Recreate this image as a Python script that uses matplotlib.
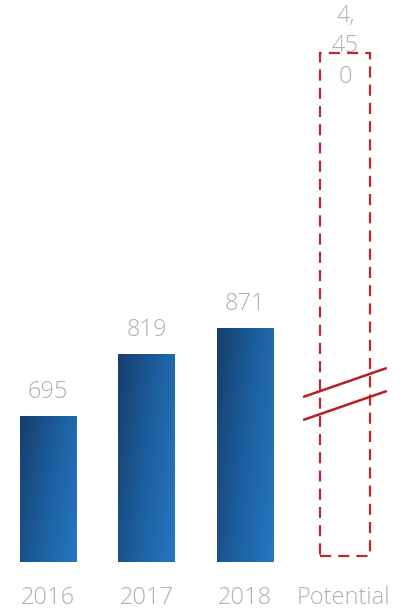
import numpy as np
import matplotlib.pyplot as plt
from matplotlib.colors import LinearSegmentedColormap

categories = ['2016', '2017', '2018', 'Potential']
values = [695, 819, 871]
potential_label = '4,\n45\n0'
potential_value = 4450

plt.rcParams['font.family'] = ['Open Sans', 'DejaVu Sans']

fig = plt.figure(figsize=(4.01, 6.09), dpi=100)
ax = fig.add_axes([0, 47 / 609, 1, 562 / 609])
ymin, ymax = 403, 1527
ax.set_xlim(-0.487, 3.584)
ax.set_ylim(ymin, ymax)
ax.axis('off')

grad = LinearSegmentedColormap.from_list('g', ['#153f6c', '#1d5f9e', '#2677c4'])
gx, gy = np.meshgrid(np.linspace(0, 1, 100), np.linspace(0, 1, 100))
gimg = 0.7 * gx + 0.3 * (1 - gy)

w = 0.569
txt = '#b0b0b0'
fs = 17
bars = ax.bar(range(len(values)), [v - ymin for v in values], bottom=ymin,
              width=w, color='none', edgecolor='none')
for i, (b, v) in enumerate(zip(bars, values)):
    x0, y0 = b.get_x(), b.get_y()
    im = ax.imshow(gimg, cmap=grad, extent=[x0, x0 + w, y0, y0 + b.get_height()],
                   origin='lower', aspect='auto', zorder=2)
    im.set_clip_path(b)
    ax.annotate(str(v), (i, v), xytext=(0, 17.5), textcoords='offset points',
                ha='center', va='center', fontsize=fs, color=txt, weight='light')

# potential bar, axis broken
pw = 0.508
px = 3.02
top = ymin + (562 - 53) / 0.5
pbar = ax.bar(px, top - (ymin + 12), bottom=ymin + 12, width=pw, facecolor='none',
              edgecolor='#c0272d', linewidth=1.6, linestyle=(0, (5, 3.2)), zorder=3)
ax.text(px, ymax - 8, potential_label, ha='center', va='top', fontsize=fs,
        color=txt, weight='light', linespacing=1.35)

for y1 in (687, 733):
    ax.plot([px - 0.43, px + 0.42], [y1, y1 + 58], color='#b52025', lw=1.8,
            zorder=4, solid_capstyle='butt')

for i, c in enumerate(categories):
    ax.text(i, ymin - 73, c, ha='center', va='center', fontsize=fs, color=txt,
            weight='light')

fig.savefig('out.png', dpi=100)
